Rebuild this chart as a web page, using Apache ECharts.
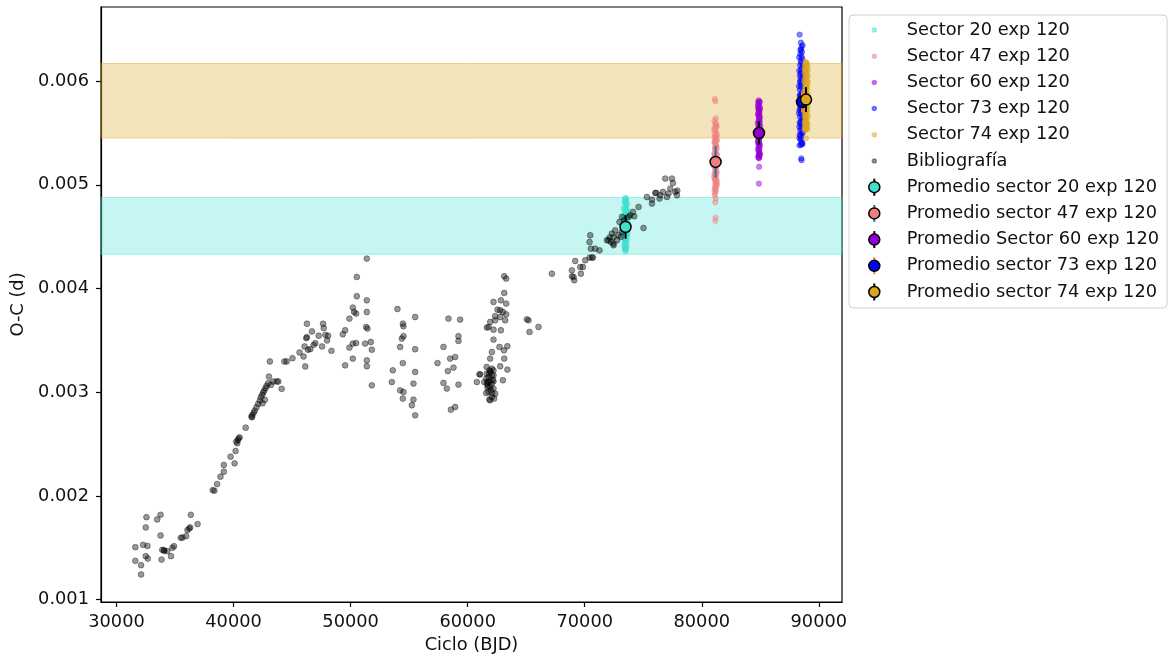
<!DOCTYPE html>
<html>
<head>
<meta charset="utf-8">
<script src="https://cdn.jsdelivr.net/npm/echarts@6/dist/echarts.min.js"></script>
<style>
  html, body { margin: 0; padding: 0; background: #fff; }
  #chart { width: 1169px; height: 660px; }
</style>
</head>
<body>
<div id="chart"></div>
<script>
// Axis ticks
const xTicks = [30000, 40000, 50000, 60000, 70000, 80000, 90000];
const yTicks = [0.001, 0.002, 0.003, 0.004, 0.005, 0.006];

// Legend labels
const seriesNames = ['Sector 20 exp 120', 'Sector 47 exp 120', 'Sector 60 exp 120', 'Sector 73 exp 120', 'Sector 74 exp 120'];
const biblioName = 'Bibliografía';
const meanNames = ['Promedio sector 20 exp 120', 'Promedio sector 47 exp 120', 'Promedio Sector 60 exp 120', 'Promedio sector 73 exp 120', 'Promedio sector 74 exp 120'];

// Mean O-C per sector: cycle, O-C, error
const meanCycle = [73487, 81181, 84888, 88564, 88906];
const meanOC = [0.004593, 0.005220, 0.005499, 0.005798, 0.005821];
const meanErr = [0.000113, 0.000152, 0.000111, 0.000100, 0.000120];

// Bands (O-C limits)
const bandTurquoise = [0.004330, 0.004877];
const bandGold = [0.005451, 0.006169];

// TESS sector timings [cycle, O-C]
const sector20 = [
  [73390,0.00460],[73400,0.00452],[73405,0.00468],[73415,0.00445],[73420,0.00475],[73428,0.00441],[73432,0.00458],
  [73440,0.00479],[73446,0.00449],[73452,0.00438],[73456,0.00466],[73462,0.00483],[73466,0.00454],[73470,0.00443],
  [73474,0.00471],[73478,0.00461],[73484,0.00486],[73488,0.00437],[73492,0.00450],[73496,0.00477],[73500,0.00463],
  [73504,0.00444],[73510,0.00482],[73514,0.00456],[73518,0.00469],[73522,0.00440],[73528,0.00485],[73532,0.00452],
  [73538,0.00474],[73543,0.00447],[73548,0.00462],[73554,0.00481],[73560,0.00441],[73565,0.00457],[73570,0.00470],
  [73575,0.00451],[73580,0.00476],[73586,0.00446],[73590,0.00465],[73598,0.00458],[73604,0.00471],[73610,0.00454],
  [73618,0.00463],[73470,0.00466],[73505,0.00459],[73535,0.00467],
  [73320,0.00459],[73335,0.00465],[73350,0.00455],[73360,0.00471],[73372,0.00448],[73640,0.00466],[73655,0.00460],
  [73668,0.00469],[73630,0.00476],[73625,0.00450],[73410,0.00484],[73445,0.00487],[73520,0.00487],[73560,0.00484],
  [73480,0.00436],[73530,0.00438],[73430,0.00439],
  [73270,0.00462],[73290,0.00455],[73300,0.00468],[73700,0.00463],[73690,0.00470],[73710,0.00457],[73340,0.00477],
  [73650,0.00453],[73380,0.00442],[73600,0.00481]
];
const sector47 = [
  [81120,0.005827],[81160,0.005806],[81210,0.005641],[81140,0.005588],[81250,0.005566],[81100,0.005549],[81180,0.005521],
  [81230,0.005503],[81130,0.005488],[81200,0.005462],[81150,0.005447],[81260,0.005431],[81110,0.005409],[81190,0.005396],
  [81240,0.005372],[81170,0.005358],[81125,0.005339],[81215,0.005327],[81145,0.005303],[81255,0.005294],[81105,0.005277],
  [81185,0.005262],[81235,0.005248],[81135,0.005231],[81205,0.005214],[81165,0.005203],[81245,0.005186],[81115,0.005171],
  [81195,0.005157],[81150,0.005139],[81225,0.005122],[81130,0.005111],[81175,0.005094],[81250,0.005082],[81110,0.005063],
  [81200,0.005051],[81140,0.005034],[81230,0.005019],[81160,0.005003],[81190,0.004988],[81120,0.004971],[81215,0.004954],
  [81170,0.004936],[81145,0.004919],[81185,0.004868],[81155,0.004832],[81175,0.004681],[81165,0.004652],[81205,0.005376],
  [81125,0.005283],[81240,0.005152],[81180,0.005412],
  [81060,0.005530],[81300,0.005480],[81080,0.005410],[81290,0.005350],[81070,0.005300],[81310,0.005240],[81090,0.005180],
  [81280,0.005120],[81060,0.005070],[81300,0.005010],[81085,0.004950],[81270,0.005560],[81075,0.005620],[81295,0.005430],
  [81065,0.005230],[81305,0.005290],[81080,0.005100],[81290,0.005040],[81100,0.004900],[81260,0.004990],[81220,0.005590],
  [81090,0.005460],[81280,0.005200],[81120,0.005360]
];
const sector60 = [
  [84870,0.005813],[84920,0.005797],[84850,0.005781],[84900,0.005768],[84940,0.005752],[84830,0.005741],[84885,0.005729],
  [84915,0.005712],[84860,0.005698],[84935,0.005684],[84845,0.005671],[84905,0.005657],[84875,0.005642],[84925,0.005628],
  [84840,0.005613],[84890,0.005601],[84950,0.005588],[84865,0.005572],[84910,0.005559],[84835,0.005547],[84880,0.005531],
  [84930,0.005519],[84855,0.005503],[84900,0.005491],[84945,0.005476],[84870,0.005462],[84915,0.005449],[84840,0.005433],
  [84890,0.005421],[84925,0.005405],[84860,0.005392],[84905,0.005378],[84850,0.005361],[84935,0.005347],[84880,0.005333],
  [84910,0.005318],[84865,0.005301],[84895,0.005287],[84920,0.005271],[84875,0.005256],[84900,0.005173],[84880,0.005011],
  [84935,0.005610],[84845,0.005520],[84890,0.005690],
  [84790,0.005760],[84990,0.005730],[84800,0.005680],[84980,0.005650],[84785,0.005590],[85000,0.005560],[84795,0.005500],
  [84990,0.005460],[84790,0.005420],[84985,0.005380],[84800,0.005340],[84975,0.005300],[84810,0.005270],[84960,0.005290],
  [84820,0.005800],[84960,0.005800],[84890,0.005260],[84850,0.005720],[84950,0.005520],[84830,0.005400]
];
const sector73 = [
  [88360,0.006448],[88615,0.006345],[88480,0.006304],[88560,0.006281],[88420,0.006262],[88530,0.006238],[88590,0.006214],
  [88450,0.006196],[88500,0.006177],[88400,0.006153],[88570,0.006131],[88470,0.006112],[88520,0.006089],[88430,0.006071],
  [88600,0.006048],[88490,0.006026],[88410,0.006004],[88550,0.005983],[88460,0.005961],[88510,0.005943],[88380,0.005918],
  [88580,0.005897],[88440,0.005874],[88530,0.005852],[88470,0.005833],[88400,0.005809],[88560,0.005786],[88490,0.005764],
  [88420,0.005741],[88540,0.005722],[88450,0.005698],[88510,0.005676],[88390,0.005654],[88570,0.005633],[88470,0.005611],
  [88430,0.005589],[88520,0.005567],[88480,0.005543],[88410,0.005521],[88550,0.005498],[88460,0.005476],[88500,0.005452],
  [88440,0.005431],[88530,0.005409],[88470,0.005385],[88500,0.005254],[88520,0.005237],[88450,0.005860],[88560,0.005720],
  [88380,0.006050],
  [88320,0.006230],[88640,0.006150],[88330,0.006100],[88650,0.006000],[88310,0.005950],[88640,0.005880],[88320,0.005800],
  [88630,0.005740],[88310,0.005690],[88620,0.005620],[88330,0.005560],[88610,0.005500],[88340,0.005450],[88600,0.005400],
  [88350,0.005380],[88580,0.005390],[88470,0.006370],[88430,0.006300],[88520,0.006330],[88400,0.005990],[88360,0.005860],
  [88340,0.005720],[88370,0.005600],[88360,0.005480]
];
const sector74 = [
  [88880,0.006182],[88960,0.006165],[88820,0.006151],[88930,0.006137],[88990,0.006122],[88850,0.006108],[88910,0.006095],
  [88790,0.006081],[88950,0.006067],[88870,0.006052],[89010,0.006039],[88830,0.006024],[88900,0.006011],[88970,0.005996],
  [88810,0.005982],[88940,0.005969],[88860,0.005953],[88920,0.005939],[88980,0.005925],[88840,0.005911],[88890,0.005897],
  [88950,0.005882],[88800,0.005868],[88930,0.005854],[88870,0.005839],[88990,0.005825],[88820,0.005811],[88910,0.005797],
  [88960,0.005783],[88850,0.005768],[88900,0.005754],[88940,0.005739],[88830,0.005726],[88880,0.005711],[88970,0.005697],
  [88860,0.005683],[88920,0.005668],[88810,0.005654],[88950,0.005640],[88890,0.005626],[88840,0.005611],[88930,0.005597],
  [88870,0.005582],[88910,0.005568],[88850,0.005553],[88900,0.005539],[88880,0.005528],[88895,0.005447],[88905,0.005910],
  [88860,0.005640],
  [88770,0.006120],[89060,0.006100],[88760,0.006000],[89070,0.005990],[88770,0.005900],[89060,0.005870],[88760,0.005790],
  [89050,0.005760],[88770,0.005700],[89060,0.005660],[88780,0.005600],[89040,0.005580],[88790,0.005530],[89020,0.005540],
  [88930,0.006180],[88850,0.006170],[89030,0.006150],[89040,0.006050],[88990,0.005950],[89000,0.005850],[89010,0.005720],
  [88980,0.005600],[88960,0.005540],[88820,0.005560]
];

// Published timings [cycle, O-C]
const biblio = [
  [31609,0.001506],[31609,0.001374],[32098,0.001332],[32098,0.001242],[32270,0.001528],[32500,0.001696],[32558,0.001795],
  [32644,0.001518],[32500,0.001419],[32672,0.001396],[33478,0.001773],[33765,0.001818],[33765,0.001618],[33851,0.001386],
  [33909,0.001480],[34081,0.001470],[34340,0.001467],[34656,0.001419],[34771,0.001499],[34915,0.001515],[35490,0.001596],
  [35633,0.001599],[35949,0.001612],[36064,0.001670],[36208,0.001686],[36352,0.001818],[36926,0.001728],[36294,0.001696],
  [34052,0.001477],
  [38220,0.002056],[38363,0.002050],[38593,0.002114],[38881,0.002185],[39168,0.002233],[39168,0.002298],[39743,0.002378],
  [40088,0.002314],[40174,0.002433],[40318,0.002507],[40375,0.002539],[40433,0.002555],[40519,0.002565],[41036,0.002658],
  [41525,0.002765],[41611,0.002781],[41726,0.002803],[41812,0.002823],[41956,0.002855],[42100,0.002887],[42243,0.002919],
  [42330,0.002951],[42445,0.002974],[42531,0.002996],[42617,0.003016],[42732,0.003038],[42818,0.003061],[42962,0.003087],
  [43020,0.003151],[43106,0.003296],[43192,0.003070],[43393,0.003103],[43680,0.003103],[43824,0.003103],[44111,0.003032],
  [42474,0.002893],[42675,0.002926],[41583,0.002758],[40232,0.002523],
  [44341,0.003296],[44543,0.003296],[45031,0.003328],[45635,0.003383],[45980,0.003344],[46066,0.003441],[46123,0.003248],
  [46209,0.003521],[46267,0.003531],[46267,0.003660],[46353,0.003409],[46554,0.003415],[46698,0.003586],[46842,0.003457],
  [46985,0.003473],[47273,0.003544],[47560,0.003441],[47646,0.003660],[47704,0.003618],[47847,0.003553],[47991,0.003499],
  [48077,0.003544],[48365,0.003399],
  [51385,0.004288],[50530,0.004111],[50530,0.003925],[51385,0.003886],[50187,0.003816],[50299,0.003773],[50470,0.003758],
  [49898,0.003710],[51385,0.003773],[49530,0.003597],[51325,0.003629],[51437,0.003613],[49334,0.003558],[50187,0.003469],
  [50470,0.003474],[49898,0.003430],[51240,0.003469],[51726,0.003484],[51812,0.003410],[50187,0.003324],[51385,0.003307],
  [51385,0.003250],[49530,0.003259],[51812,0.003066],
  [54000,0.003802],[54462,0.003661],[54514,0.003635],[55513,0.003725],[54514,0.003540],[54376,0.003517],[54231,0.003436],
  [55513,0.003414],[54462,0.003281],[53607,0.003211],[55513,0.003195],[53521,0.003098],[55368,0.003083],[54231,0.003018],
  [54514,0.003002],[54462,0.002938],[55368,0.002929],[55231,0.002874],[55513,0.002777],
  [58360,0.003710],[59358,0.003700],[59214,0.003540],[59214,0.003494],[57933,0.003436],[58505,0.003324],[58932,0.003339],
  [57421,0.003281],[58788,0.003237],[58308,0.003204],[57933,0.003089],[58222,0.003035],[59214,0.003073],[58564,0.002832],
  [58932,0.002857],
  [63121,0.004118],[63291,0.004095],[63121,0.003957],[62207,0.003870],[62840,0.003886],[63291,0.003854],[62548,0.003796],
  [63010,0.003773],[62778,0.003725],[62350,0.003693],[63205,0.003693],[61639,0.003623],[62207,0.003603],[62840,0.003597],
  [62207,0.003507],[62719,0.003436],[63394,0.003443],[63104,0.003404],[62069,0.003388],[61923,0.003324],[63121,0.003324],
  [62778,0.003250],[63394,0.003218],[62207,0.003211],[61009,0.003172],[60786,0.003098],[62207,0.003105],[63010,0.003115],
  [61639,0.003179],[61782,0.003147],[61923,0.003115],[62069,0.003163],[61639,0.003083],[61923,0.003050],[62207,0.003035],
  [61782,0.003002],[62069,0.002954],[61923,0.002922],[61624,0.003243],[62350,0.002986],[61411,0.003098],[61782,0.003098],
  [61582,0.003131],[62069,0.003083],[62207,0.003163],[61693,0.003044],[61582,0.002992],[62266,0.002938],[61862,0.003211],
  [62069,0.003227],[61700,0.003100],[61850,0.003180],[62000,0.003020],[61950,0.003200],[62150,0.003120],[61750,0.003060],
  [62100,0.002990],[61850,0.002930],
  [62778,0.003790],[63291,0.003751],[62350,0.003732],[61923,0.003677],[61782,0.003629],[65060,0.003703],[65198,0.003693],
  [66052,0.003629],[65285,0.003581],[61069,0.003172],
  [67196,0.004143],[68906,0.004175],[69188,0.004265],[68906,0.004117],[69103,0.004079],[69676,0.004143],[69847,0.004207],
  [70043,0.004272],[70411,0.004298],[70700,0.004298],[70529,0.004384],[70411,0.004448],[70471,0.004513],[70898,0.004384],
  [71265,0.004368],[72034,0.004465],[72240,0.004448],[72462,0.004417],[72753,0.004465],[72890,0.004513],[73180,0.004545],
  [72974,0.004641],[73376,0.004657],[73889,0.004706],[74119,0.004738],[73744,0.004690],[74231,0.004696],[75025,0.004583],
  [72607,0.004561],[72317,0.004529],[73094,0.004497],[75744,0.004857],[75744,0.004819],[76112,0.004921],[76394,0.004867],
  [76683,0.004931],[76880,0.005060],[77452,0.005060],[77538,0.005017],[77163,0.004915],[77308,0.004963],[77736,0.004931],
  [77880,0.004899],[77026,0.004882],[75317,0.004882],[76453,0.004899],[69043,0.004111],[69616,0.004207],[70616,0.004298],
  [71896,0.004465],[72121,0.004491],[72462,0.004433],[74600,0.004786],[76027,0.004921],[77906,0.004944],[73180,0.004690],
  [72462,0.004497]
];

const sectorData = [sector20, sector47, sector60, sector73, sector74];
const sectorColors = ['#40E0D0', '#F08080', '#9400D3', '#0000FF', '#DAA520'];
const sectorAlpha = ['rgba(64,224,208,0.6)', 'rgba(240,128,128,0.6)', 'rgba(148,0,211,0.6)', 'rgba(0,0,255,0.6)', 'rgba(218,165,32,0.6)'];
const errColors = ['#000000', '#1f77b4', '#000000', '#ff7f0e', '#000000'];

const FONT = 'DejaVu Sans';
const FS = 17.8;

// Legend layout: every icon carries a 1.5 px stroke, which adds to the row box
const LEG_LEFT = 849, LEG_TOP = 15;
const LEG_PAD = [2.25, 8, 3.25, 5.25];
const ICON_W = 46.7, ICON_H = 24, ICON_CX = 19.3, ICON_STROKE = 1.5;
const ROW_GAP = 0.7;
const ROW_STEP = ICON_H + ICON_STROKE + ROW_GAP;

const circlePath = (r) => 'path://M0,0M' + ICON_W + ',' + ICON_H +
  'M' + (ICON_CX - r) + ',12a' + r + ',' + r + ' 0 1,0 ' + (2 * r) + ',0a' + r + ',' + r + ' 0 1,0 ' + (-2 * r) + ',0z';
const dotIcon = circlePath(2.0);
const meanIcon = circlePath(5.5);

const series = [];
sectorData.forEach((d, i) => {
  const s = {
    name: seriesNames[i],
    type: 'scatter',
    data: d,
    symbol: 'circle',
    symbolSize: 5.4,
    z: 2,
    itemStyle: { color: sectorAlpha[i], borderColor: sectorAlpha[i], borderWidth: 0.8 },
    emphasis: { disabled: true },
    silent: true
  };
  if (i === 0) {
    s.markArea = {
      silent: true,
      data: [
        [{ yAxis: bandTurquoise[0], itemStyle: { color: 'rgba(64,224,208,0.3)', borderColor: 'rgba(64,224,208,0.45)', borderWidth: 1 } }, { yAxis: bandTurquoise[1] }],
        [{ yAxis: bandGold[0], itemStyle: { color: 'rgba(218,165,32,0.3)', borderColor: 'rgba(218,165,32,0.45)', borderWidth: 1 } }, { yAxis: bandGold[1] }]
      ]
    };
  }
  series.push(s);
});

series.push({
  name: biblioName,
  type: 'scatter',
  data: biblio,
  symbol: 'circle',
  symbolSize: 5.8,
  z: 2,
  itemStyle: { color: 'rgba(0,0,0,0.5)', borderColor: 'rgba(0,0,0,0.5)', borderWidth: 0.9 },
  emphasis: { disabled: true },
  silent: true
});

// Error bars of the sector means
series.push({
  name: 'errores',
  type: 'custom',
  z: 3,
  silent: true,
  data: meanCycle.map((c, i) => ({ value: [c, meanOC[i], meanErr[i]], itemStyle: { color: errColors[i] } })),
  renderItem: (params, api) => {
    const x = api.value(0), y = api.value(1), e = api.value(2);
    const p1 = api.coord([x, y - e]);
    const p2 = api.coord([x, y + e]);
    return {
      type: 'line',
      shape: { x1: p1[0], y1: p1[1], x2: p2[0], y2: p2[1] },
      style: { stroke: api.visual('color'), lineWidth: 2 }
    };
  }
});

meanCycle.forEach((c, i) => {
  series.push({
    name: meanNames[i],
    type: 'scatter',
    data: [[c, meanOC[i]]],
    symbol: 'circle',
    symbolSize: 11,
    z: 4,
    itemStyle: { color: sectorColors[i], borderColor: '#000', borderWidth: 1.5, opacity: 1 },
    emphasis: { disabled: true },
    silent: true
  });
});

const legendData = seriesNames.map((n, i) => ({
  name: n, icon: dotIcon,
  itemStyle: { color: sectorAlpha[i], borderColor: sectorAlpha[i], borderWidth: ICON_STROKE }
})).concat([{
  name: biblioName, icon: dotIcon,
  itemStyle: { color: 'rgba(0,0,0,0.5)', borderColor: 'rgba(0,0,0,0.5)', borderWidth: ICON_STROKE }
}]).concat(meanNames.map((n, i) => ({
  name: n, icon: meanIcon,
  itemStyle: { color: sectorColors[i], borderColor: '#000', borderWidth: ICON_STROKE }
})));

// Error-bar strokes behind the mean icons in the legend
const legendBars = meanNames.map((n, i) => {
  const row = 6 + i;
  const cx = LEG_LEFT + LEG_PAD[3] + ICON_STROKE / 2 + ICON_CX;
  const cy = LEG_TOP + LEG_PAD[0] + ICON_STROKE / 2 + ICON_H / 2 + row * ROW_STEP;
  return {
    type: 'line', z: 1, silent: true,
    shape: { x1: cx, y1: cy - 8.5, x2: cx, y2: cy + 8.5 },
    style: { stroke: errColors[i], lineWidth: 2 }
  };
});

const axisLineStyle = { color: '#000', width: 1.2 };

const option = {
  animation: false,
  backgroundColor: '#fff',
  textStyle: { fontFamily: FONT },
  grid: { left: 101, right: 327, top: 7, bottom: 58, show: true, borderColor: '#000', borderWidth: 1.2, backgroundColor: 'transparent' },
  xAxis: {
    type: 'value',
    min: 28675, max: 91980,
    name: 'Ciclo (BJD)',
    nameLocation: 'middle',
    nameGap: 34,
    nameTextStyle: { fontFamily: FONT, fontSize: FS, color: '#111' },
    axisLine: { show: true, lineStyle: axisLineStyle },
    axisTick: { show: true, length: 5, lineStyle: axisLineStyle, customValues: xTicks },
    axisLabel: { customValues: xTicks, margin: 11, fontFamily: FONT, fontSize: FS, color: '#111', formatter: v => String(v) },
    splitLine: { show: false }
  },
  yAxis: {
    type: 'value',
    min: 0.000977, max: 0.006714,
    name: 'O-C (d)',
    nameLocation: 'middle',
    nameGap: 70,
    nameTextStyle: { fontFamily: FONT, fontSize: FS, color: '#111' },
    axisLine: { show: true, lineStyle: axisLineStyle },
    axisTick: { show: true, length: 5, lineStyle: axisLineStyle, customValues: yTicks },
    axisLabel: { customValues: yTicks, margin: 12, fontFamily: FONT, fontSize: FS, color: '#111', formatter: v => v.toFixed(3) },
    splitLine: { show: false }
  },
  legend: {
    orient: 'vertical',
    left: LEG_LEFT, top: LEG_TOP,
    padding: LEG_PAD,
    itemWidth: ICON_W, itemHeight: ICON_H,
    itemGap: ROW_GAP,
    borderColor: '#d0d0d0', borderWidth: 1, borderRadius: 4,
    backgroundColor: 'transparent',
    selectedMode: false,
    textStyle: { fontFamily: FONT, fontSize: FS, color: '#111', lineHeight: ICON_H },
    data: legendData
  },
  graphic: legendBars,
  series: series
};

const chart = echarts.init(document.getElementById('chart'), null, { renderer: 'canvas' });
chart.setOption(option);
</script>
</body>
</html>
